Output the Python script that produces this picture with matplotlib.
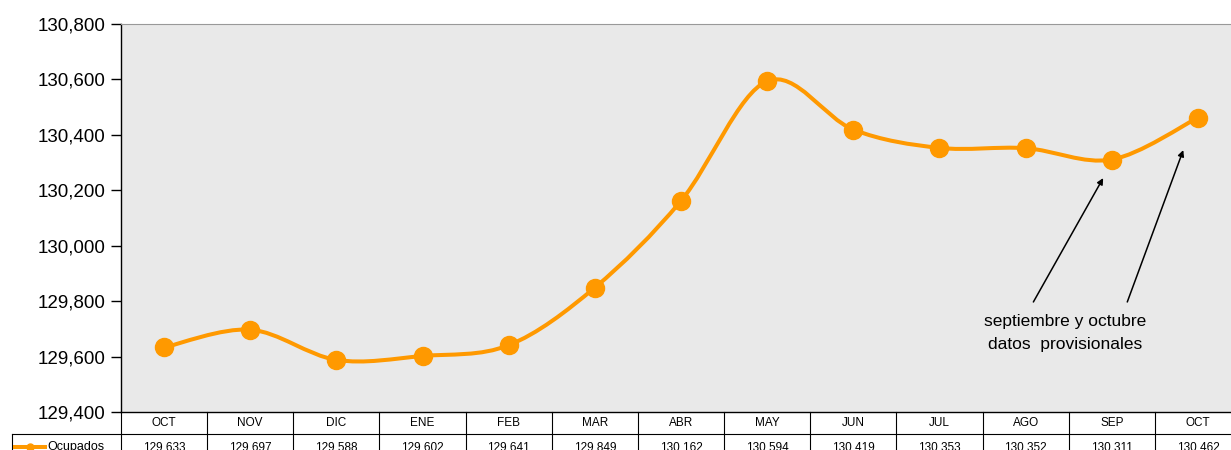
import numpy as np
import matplotlib.pyplot as plt
from matplotlib.path import Path
from matplotlib.patches import PathPatch
from matplotlib.lines import Line2D

plt.rcParams['font.family'] = ['Liberation Sans', 'DejaVu Sans']

months = ['OCT', 'NOV', 'DIC', 'ENE', 'FEB', 'MAR', 'ABR', 'MAY', 'JUN',
          'JUL', 'AGO', 'SEP', 'OCT']
ocupados = [129633, 129697, 129588, 129602, 129641, 129849, 130162, 130594,
            130419, 130353, 130352, 130311, 130462]
value_labels = ['129,633', '129,697', '129,588', '129,602', '129,641', '129,849',
                '130,162', '130,594', '130,419', '130,353', '130,352', '130,311',
                '130,462']
series_name = 'Ocupados'

orange = '#FF9900'

fig = plt.figure(figsize=(12.31, 4.5), dpi=100)
ax = fig.add_axes([121 / 1231, 38 / 450, 1120 / 1231, 388 / 450])
ax.set_facecolor('#e9e9e9')

x = np.arange(len(ocupados))
y = np.array(ocupados, dtype=float)

# smoothed line like the spreadsheet (cubic bezier, catmull-rom tangents)
verts = [(x[0], y[0])]
codes = [Path.MOVETO]
n = len(x)
for i in range(n - 1):
    p0 = np.array([x[max(i - 1, 0)], y[max(i - 1, 0)]])
    p1 = np.array([x[i], y[i]])
    p2 = np.array([x[i + 1], y[i + 1]])
    p3 = np.array([x[min(i + 2, n - 1)], y[min(i + 2, n - 1)]])
    c1 = p1 + (p2 - p0) / 6
    c2 = p2 - (p3 - p1) / 6
    verts += [tuple(c1), tuple(c2), tuple(p2)]
    codes += [Path.CURVE4] * 3
ax.add_patch(PathPatch(Path(verts, codes), facecolor='none', edgecolor=orange,
                       lw=2.9, zorder=3))
ax.plot(x, y, 'o', color=orange, ms=13, zorder=4)

ax.set_xlim(-0.5, n - 0.5)
ax.set_ylim(129400, 130800)
ax.set_yticks(np.arange(129400, 130801, 200))
ax.set_yticklabels([f'{v:,}' for v in range(129400, 130801, 200)], fontsize=13.5)
ax.tick_params(axis='y', direction='out', length=7, width=1, pad=4)
ax.set_xticks([])
ax.spines['right'].set_visible(False)
ax.spines['top'].set_color('#999999')
ax.spines['left'].set_linewidth(1)
ax.spines['bottom'].set_linewidth(1)

# data table under the axis
tr = ax.get_xaxis_transform()
rh = 22 / 388
left_edge = -0.5 - 109 / 86.15
for k in range(n + 1):
    ax.add_line(Line2D([k - 0.5, k - 0.5], [0, -2 * rh], transform=tr,
                       color='black', lw=0.8, clip_on=False))
ax.add_line(Line2D([-0.5, n - 0.5], [-rh, -rh], transform=tr,
                   color='black', lw=0.8, clip_on=False))
ax.add_line(Line2D([left_edge, -0.5], [-rh, -rh], transform=tr,
                   color='black', lw=0.8, clip_on=False))
ax.add_line(Line2D([left_edge, left_edge], [-rh, -2 * rh], transform=tr,
                   color='black', lw=0.8, clip_on=False))
row2 = -35 / 388
for i, m in enumerate(months):
    ax.text(i, -rh / 2, m, transform=tr, ha='center', va='center', fontsize=8.5)
    ax.text(i, row2, value_labels[i], transform=tr, ha='center',
            va='center', fontsize=8.5)
kx0 = left_edge + 3 / 86.15
kx1 = left_edge + 33 / 86.15
ax.add_line(Line2D([kx0, kx1], [row2, row2], transform=tr,
                   color=orange, lw=2.9, clip_on=False))
ax.add_line(Line2D([(kx0 + kx1) / 2], [row2], transform=tr, marker='o',
                   color=orange, ms=5, clip_on=False))
ax.text(kx1 + 2 / 86.15, row2, series_name, transform=tr, ha='left',
        va='center', fontsize=9)

# note with arrows to the provisional months
arrow = dict(arrowstyle='-|>', color='black', lw=1.1, mutation_scale=9,
             shrinkA=0, shrinkB=0)
ax.annotate('', xy=(10.90, 130244), xytext=(10.09, 129797), arrowprops=arrow)
ax.annotate('', xy=(11.83, 130345), xytext=(11.18, 129797), arrowprops=arrow)
ax.text(10.46, 129725, 'septiembre y octubre', ha='center', va='center',
        fontsize=12.5)
ax.text(10.46, 129645, 'datos  provisionales', ha='center', va='center',
        fontsize=12.5)

fig.savefig('out.png', dpi=100)
